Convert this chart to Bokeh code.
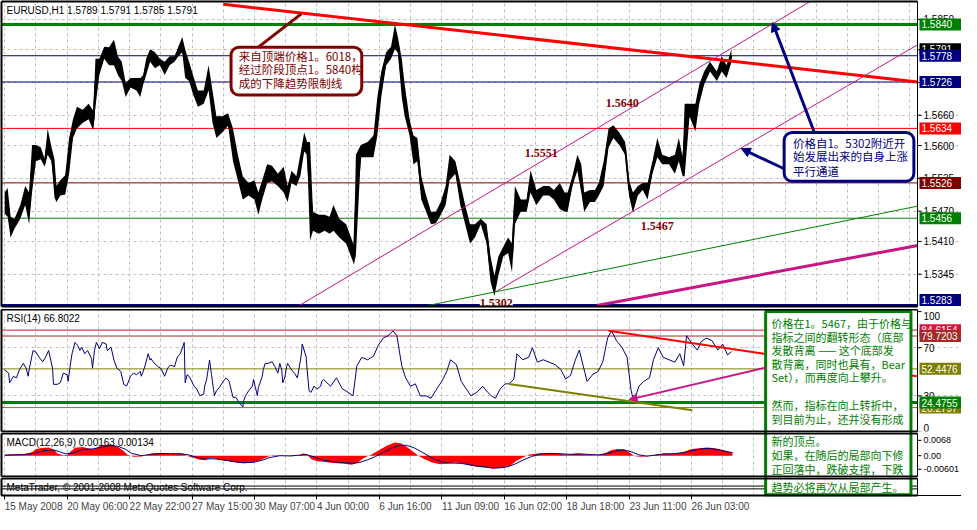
from bokeh.plotting import figure
from bokeh.models import Range1d, FixedTicker, Label, Arrow, NormalHead, BoxAnnotation
from bokeh.layouts import column
from bokeh.embed import file_html
from bokeh.resources import INLINE
from bokeh.core.properties import value

# ---------------- data ----------------
time_tick_idx = [0, 64, 128, 192, 256, 320, 384, 448, 512, 576, 640, 704]
time_labels = ["15 May 2008", "20 May 06:00", "22 May 22:00", "27 May 15:00", "30 May 07:00",
               "4 Jun 00:00", "6 Jun 16:00", "11 Jun 09:00", "16 Jun 02:00", "18 Jun 18:00",
               "23 Jun 11:00", "26 Jun 03:00"]
grid_x = list(range(0, 929, 32))

bar_idx = [0, 3, 6, 10, 16, 21, 25, 28, 32, 37,
           41, 44, 48, 51, 53, 57, 62, 66, 70, 74,
           80, 86, 90, 91, 93, 97, 102, 107, 112, 116,
           120, 124, 129, 135, 139, 142, 145, 149, 154, 159,
           164, 169, 174, 178, 182, 185, 189, 193, 198, 204,
           209, 213, 217, 223, 229, 234, 239, 244, 250, 256,
           260, 264, 269, 274, 280, 286, 290, 294, 299, 303,
           307, 310, 313, 316, 322, 328, 333, 337, 343, 350,
           355, 358, 360, 365, 372, 378, 382, 386, 391, 396,
           400, 403, 407, 410, 415, 419, 423, 427, 432, 437,
           442, 447, 452, 456, 462, 467, 472, 477, 482, 488,
           494, 498, 502, 506, 511, 516, 520, 523, 529, 535,
           539, 545, 552, 558, 563, 569, 574, 577, 582, 587,
           591, 594, 600, 605, 609, 614, 619, 624, 630, 636,
           640, 644, 649, 654, 659, 664, 669, 674, 681, 687,
           691, 695, 697, 702, 708, 712, 717, 723, 730, 735,
           740, 745]
bar_high = [1.5507, 1.5516, 1.5459, 1.5455, 1.5482, 1.5520, 1.5507, 1.5601, 1.5601, 1.5596,
            1.5573, 1.5634, 1.5596, 1.5573, 1.5520, 1.5531, 1.5541, 1.5615, 1.5652, 1.5677,
            1.5671, 1.5683, 1.5671, 1.5671, 1.5772, 1.5772, 1.5796, 1.5795, 1.5810, 1.5777,
            1.5766, 1.5724, 1.5734, 1.5734, 1.5734, 1.5740, 1.5772, 1.5791, 1.5785, 1.5772,
            1.5766, 1.5777, 1.5777, 1.5796, 1.5815, 1.5791, 1.5766, 1.5740, 1.5709, 1.5709,
            1.5759, 1.5709, 1.5658, 1.5658, 1.5664, 1.5634, 1.5582, 1.5539, 1.5526, 1.5531,
            1.5507, 1.5531, 1.5563, 1.5560, 1.5544, 1.5558, 1.5520, 1.5550, 1.5539, 1.5582,
            1.5626, 1.5607, 1.5607, 1.5469, 1.5463, 1.5463, 1.5459, 1.5482, 1.5455, 1.5444,
            1.5418, 1.5402, 1.5582, 1.5601, 1.5607, 1.5620, 1.5696, 1.5747, 1.5785, 1.5796,
            1.5840, 1.5815, 1.5772, 1.5721, 1.5652, 1.5620, 1.5615, 1.5539, 1.5501, 1.5469,
            1.5469, 1.5488, 1.5520, 1.5582, 1.5569, 1.5526, 1.5482, 1.5444, 1.5444, 1.5455,
            1.5444, 1.5380, 1.5342, 1.5380, 1.5399, 1.5418, 1.5406, 1.5520, 1.5493, 1.5493,
            1.5551, 1.5512, 1.5520, 1.5520, 1.5512, 1.5526, 1.5507, 1.5507, 1.5539, 1.5582,
            1.5563, 1.5507, 1.5512, 1.5512, 1.5526, 1.5569, 1.5634, 1.5640, 1.5626, 1.5607,
            1.5531, 1.5507, 1.5520, 1.5526, 1.5526, 1.5569, 1.5615, 1.5582, 1.5577, 1.5582,
            1.5615, 1.5577, 1.5683, 1.5683, 1.5683, 1.5721, 1.5747, 1.5766, 1.5747, 1.5777,
            1.5759, 1.5791]
bar_low = [1.5465, 1.5459, 1.5418, 1.5435, 1.5455, 1.5482, 1.5444, 1.5507, 1.5569, 1.5573,
           1.5558, 1.5582, 1.5569, 1.5497, 1.5488, 1.5501, 1.5503, 1.5544, 1.5615, 1.5634,
           1.5645, 1.5652, 1.5634, 1.5632, 1.5677, 1.5740, 1.5772, 1.5759, 1.5759, 1.5740,
           1.5728, 1.5696, 1.5715, 1.5709, 1.5696, 1.5721, 1.5740, 1.5766, 1.5753, 1.5759,
           1.5740, 1.5759, 1.5766, 1.5777, 1.5785, 1.5734, 1.5728, 1.5702, 1.5677, 1.5683,
           1.5709, 1.5645, 1.5615, 1.5626, 1.5639, 1.5569, 1.5531, 1.5493, 1.5501, 1.5493,
           1.5463, 1.5493, 1.5526, 1.5529, 1.5520, 1.5507, 1.5488, 1.5526, 1.5520, 1.5539,
           1.5588, 1.5582, 1.5412, 1.5431, 1.5425, 1.5431, 1.5425, 1.5431, 1.5418, 1.5406,
           1.5380, 1.5364, 1.5383, 1.5577, 1.5577, 1.5577, 1.5620, 1.5696, 1.5759, 1.5772,
           1.5791, 1.5785, 1.5696, 1.5658, 1.5620, 1.5563, 1.5569, 1.5493, 1.5469, 1.5444,
           1.5446, 1.5463, 1.5482, 1.5531, 1.5544, 1.5482, 1.5444, 1.5406, 1.5418, 1.5444,
           1.5406, 1.5330, 1.5302, 1.5342, 1.5380, 1.5387, 1.5349, 1.5444, 1.5469, 1.5469,
           1.5507, 1.5482, 1.5501, 1.5501, 1.5493, 1.5474, 1.5469, 1.5469, 1.5520, 1.5550,
           1.5507, 1.5469, 1.5488, 1.5488, 1.5501, 1.5520, 1.5596, 1.5615, 1.5601, 1.5582,
           1.5501, 1.5467, 1.5501, 1.5512, 1.5493, 1.5544, 1.5577, 1.5563, 1.5563, 1.5544,
           1.5569, 1.5539, 1.5539, 1.5658, 1.5628, 1.5683, 1.5721, 1.5747, 1.5728, 1.5747,
           1.5734, 1.5766]

price_ticks = [1.5345, 1.5410, 1.5470, 1.5535, 1.5600, 1.5660, 1.5725, 1.5790, 1.5850]
price_tick_labels = ["1.5345", "1.5410", "1.5470", "1.5535", "1.5600", "1.5660", "1.5725",
                     "1.5790", "1.5850"]
level_price = [1.5840, 1.5778, 1.5726, 1.5634, 1.5526, 1.5456, 1.5283]
level_color = ["#008000", "#000080", "#000080", "#FF0000", "#800000", "#008000", "#000080"]
level_width = [3, 1, 1, 1, 1, 1, 3]
tag_price = [1.5840, 1.5791, 1.5778, 1.5726, 1.5634, 1.5526, 1.5456, 1.5283]
tag_text = ["1.5840", "1.5791", "1.5778", "1.5726", "1.5634", "1.5526", "1.5456", "1.5283"]
tag_color = ["#008000", "#000000", "#000080", "#000080", "#FF0000", "#800000", "#008000", "#000080"]

trend_x0 = [224, 302, 503, 434, 607]
trend_p0 = [1.5880, 1.5283, 1.5310, 1.5283, 1.5283]
trend_x1 = [936, 826, 936, 936, 936]
trend_p1 = [1.5726, 1.5886, 1.5800, 1.5480, 1.5402]
trend_color = ["#FF0000", "#C71585", "#C71585", "#008000", "#C71585"]
trend_width = [3, 1, 1, 1, 3]

pivot_text = ["1.5640", "1.5551", "1.5467"]
pivot_idx = [616, 533, 652]
pivot_price = [1.5685, 1.5586, 1.5440]

rsi_idx = [0, 4, 5, 9, 12, 15, 19, 22, 24, 25,
           29, 32, 35, 39, 42, 45, 49, 50, 54, 57,
           60, 64, 65, 67, 69, 72, 75, 77, 79, 82,
           85, 89, 90, 92, 94, 95, 97, 100, 104, 105,
           109, 112, 115, 119, 122, 125, 129, 132, 135, 139,
           140, 142, 144, 147, 149, 150, 152, 157, 160, 164,
           167, 170, 174, 177, 180, 184, 185, 187, 189, 190,
           194, 197, 200, 204, 205, 207, 210, 212, 214, 215,
           217, 220, 224, 227, 230, 234, 237, 240, 244, 245,
           247, 250, 254, 255, 257, 259, 260, 264, 265, 267,
           270, 274, 277, 280, 282, 284, 285, 287, 289, 290,
           294, 297, 300, 304, 305, 309, 310, 312, 314, 317,
           320, 324, 325, 327, 334, 340, 346, 352, 357, 361,
           366, 372, 378, 383, 388, 393, 398, 402, 407, 411,
           416, 421, 426, 432, 437, 443, 448, 453, 457, 463,
           468, 473, 478, 484, 490, 495, 499, 503, 508, 513,
           517, 522, 525, 531, 537, 541, 546, 552, 558, 564,
           570, 575, 580, 585, 589, 593, 597, 603, 608, 613,
           618, 622, 627, 633, 638, 642, 645, 650, 655, 661,
           665, 670, 675, 681, 687, 692, 696, 699, 704, 710,
           714, 719, 725, 731, 736, 741, 745]
rsi_val = [51.6, 48.9, 40.9, 46.3, 44.9, 51.6, 57.0, 53.0, 46.3, 51.6,
           67.7, 66.4, 62.3, 58.3, 62.3, 67.7, 53.0, 39.6, 39.6, 40.9,
           48.9, 47.6, 42.2, 54.3, 65.0, 74.4, 71.7, 67.7, 70.4, 65.0,
           67.7, 61.0, 53.0, 67.7, 74.4, 73.1, 69.0, 74.4, 73.1, 67.7,
           70.4, 59.7, 53.0, 50.3, 39.6, 38.2, 46.3, 48.9, 47.6, 50.3,
           46.3, 50.3, 55.6, 65.0, 59.7, 61.0, 58.3, 54.3, 53.0, 46.3,
           53.0, 55.6, 54.3, 62.3, 65.0, 74.4, 40.9, 47.6, 46.3, 44.9,
           38.2, 35.5, 30.2, 31.5, 38.2, 43.6, 59.7, 47.6, 35.5, 30.2,
           34.2, 36.9, 42.2, 44.9, 42.2, 28.8, 28.8, 24.8, 20.8, 26.1,
           30.2, 34.2, 38.2, 43.6, 36.9, 30.2, 36.9, 46.3, 51.6, 57.0,
           57.0, 58.3, 54.3, 48.9, 57.0, 51.6, 40.9, 44.9, 54.3, 57.0,
           51.6, 48.9, 44.9, 63.7, 73.1, 62.3, 51.6, 34.2, 32.9, 38.2,
           35.5, 38.2, 42.2, 43.6, 38.0, 45.0, 36.0, 33.0, 30.0, 55.0,
           62.0, 60.0, 63.0, 72.0, 78.0, 80.0, 84.0, 80.0, 55.0, 45.0,
           38.0, 40.0, 30.0, 30.0, 28.0, 36.0, 42.0, 50.0, 60.0, 56.0,
           42.0, 36.0, 30.0, 33.0, 38.0, 33.0, 30.0, 28.0, 36.0, 40.0,
           40.0, 44.0, 65.0, 60.0, 62.0, 70.0, 58.0, 60.0, 58.0, 56.0,
           52.0, 44.0, 47.0, 60.0, 68.0, 55.0, 42.0, 48.0, 50.0, 58.0,
           78.0, 84.0, 76.0, 70.0, 62.0, 35.0, 24.5, 38.0, 42.0, 45.0,
           60.0, 70.0, 62.0, 60.0, 58.0, 65.0, 55.0, 80.0, 74.0, 68.0,
           75.0, 78.0, 76.0, 68.0, 73.0, 64.0, 66.8]
rsi_ticks = [100, 70, 30, 0]
rsi_tick_labels = ["100", "70", "30", "0"]
rsi_levels = [84.6154, 79.7203, 52.4476, 24.4755, 20.2797]
rsi_level_color = ["#DC143C", "#A52A2A", "#808000", "#008000", "#808000"]
rsi_level_width = [1, 1, 1, 3, 1]
rsi_tag_order = [0, 1, 2, 4, 3]

macd_idx = [0, 10, 20, 28, 32, 38, 45, 50, 54, 60,
            64, 68, 72, 80, 88, 92, 96, 100, 106, 110,
            116, 122, 126, 132, 140, 146, 150, 156, 162, 170,
            176, 182, 188, 194, 200, 206, 210, 216, 222, 230,
            238, 244, 250, 256, 262, 268, 274, 280, 286, 294,
            300, 306, 310, 314, 320, 326, 332, 340, 348, 356,
            362, 368, 376, 384, 392, 400, 406, 412, 418, 424,
            430, 438, 446, 454, 462, 470, 478, 486, 494, 500,
            506, 512, 518, 524, 530, 538, 546, 554, 562, 570,
            578, 586, 592, 600, 608, 616, 622, 628, 634, 640,
            646, 652, 660, 668, 676, 684, 692, 698, 704, 712,
            720, 728, 736, 742, 746]
macd_main = [0.0005, 0.0006, 0.0008, 0.0015, 0.0030, 0.0034, 0.0036, 0.0028, 0.0010, 0.0002,
             0.0003, 0.0020, 0.0035, 0.0038, 0.0030, 0.0028, 0.0040, 0.0046, 0.0050, 0.0048,
             0.0040, 0.0020, 0.0004, -0.0005, -0.0004, 0.0003, 0.0010, 0.0012, 0.0010, 0.0008,
             0.0008, 0.0010, -0.0003, -0.0010, -0.0018, -0.0020, -0.0010, -0.0012, -0.0020, -0.0025,
             -0.0030, -0.0033, -0.0032, -0.0028, -0.0020, -0.0008, 0.0002, 0.0002, 0.0000, -0.0002,
             0.0000, 0.0010, 0.0006, -0.0015, -0.0025, -0.0027, -0.0030, -0.0033, -0.0036, -0.0040,
             -0.0030, -0.0010, 0.0005, 0.0025, 0.0045, 0.0058, 0.0055, 0.0040, 0.0020, 0.0000,
             -0.0015, -0.0030, -0.0038, -0.0035, -0.0030, -0.0035, -0.0045, -0.0050, -0.0052, -0.0058,
             -0.0055, -0.0050, -0.0045, -0.0025, -0.0010, 0.0005, 0.0010, 0.0012, 0.0010, 0.0008,
             0.0005, 0.0010, 0.0008, 0.0003, 0.0002, 0.0012, 0.0025, 0.0030, 0.0028, 0.0015,
             -0.0002, -0.0005, -0.0002, 0.0005, 0.0010, 0.0008, 0.0012, 0.0020, 0.0030, 0.0033,
             0.0036, 0.0033, 0.0025, 0.0018, 0.0016]
sig_idx = [0, 20, 30, 40, 50, 56, 62, 70, 80, 90,
           100, 108, 116, 124, 130, 140, 150, 160, 170, 180,
           188, 196, 204, 214, 224, 234, 244, 254, 264, 272,
           282, 292, 302, 308, 316, 326, 332, 340, 348, 356,
           364, 372, 380, 388, 396, 404, 412, 420, 428, 436,
           444, 452, 460, 468, 476, 484, 492, 500, 508, 516,
           524, 532, 540, 548, 556, 564, 572, 580, 590, 600,
           610, 618, 626, 634, 642, 650, 658, 666, 676, 686,
           696, 704, 714, 724, 734, 746]
sig_val = [0.0002, 0.0005, 0.0010, 0.0022, 0.0025, 0.0018, 0.0008, 0.0012, 0.0028, 0.0030,
           0.0038, 0.0044, 0.0042, 0.0028, 0.0010, 0.0000, 0.0006, 0.0010, 0.0009, 0.0009,
           0.0004, -0.0006, -0.0014, -0.0014, -0.0018, -0.0026, -0.0031, -0.0030, -0.0020, -0.0008,
           0.0000, -0.0001, 0.0002, 0.0006, -0.0004, -0.0020, -0.0024, -0.0028, -0.0031, -0.0034,
           -0.0030, -0.0018, -0.0004, 0.0014, 0.0032, 0.0045, 0.0046, 0.0034, 0.0015, -0.0005,
           -0.0022, -0.0032, -0.0033, -0.0034, -0.0040, -0.0046, -0.0050, -0.0054, -0.0054, -0.0049,
           -0.0035, -0.0018, -0.0004, 0.0006, 0.0010, 0.0010, 0.0008, 0.0006, 0.0008, 0.0005,
           0.0004, 0.0010, 0.0020, 0.0026, 0.0018, 0.0004, -0.0002, 0.0002, 0.0008, 0.0009,
           0.0014, 0.0022, 0.0030, 0.0032, 0.0024, 0.0013]
macd_ticks = [0.0068, 0.0, -0.00601]
macd_tick_labels = ["0.0068", "0.00", "-0.00601"]

# ---------------- layout helpers ----------------
FW = 960                        # frame includes the price-scale column
SCALE_PX = 44                   # width of the price-scale column in pixels
X0, AX = -3.3, 935.7            # chart left edge and price-scale line (bar units)
BPX = (AX - X0) / (FW - SCALE_PX)   # bars per pixel
X1 = AX + SCALE_PX * BPX
xr = Range1d(X0, X1)
FONT = "Liberation Sans"


def base_fig(fh, yr, top=0, bottom=2, xaxis=False):
    p = figure(frame_width=FW, frame_height=fh, x_range=xr, y_range=yr,
               output_backend="svg", toolbar_location=None,
               x_axis_location="below" if xaxis else None, y_axis_location=None,
               min_border_left=1, min_border_right=0, min_border_top=top,
               min_border_bottom=bottom)
    p.outline_line_color = None
    p.background_fill_color = "white"
    p.border_fill_color = "white"
    p.xgrid.ticker = FixedTicker(ticks=grid_x)
    p.xgrid.grid_line_color = "#C0C0C0"
    p.xgrid.grid_line_dash = "3 3"
    p.ygrid.grid_line_color = "#C0C0C0"
    p.ygrid.grid_line_dash = "3 3"
    p.ygrid.bounds = (X0, AX)
    y0, y1 = yr.start, yr.end
    p.segment(x0=[X0, X0, X0, AX], x1=[X0, AX, AX, AX], y0=[y0, y1, y0, y0], y1=[y1, y1, y0, y1],
              line_color="black", line_width=[2, 2, 2, 1], level="overlay")
    return p


def scale_labels(p, ticks, labels, baselines=None, size="10px"):
    n = len(ticks)
    p.segment(x0=[AX] * n, x1=[AX + 4 * BPX] * n, y0=ticks, y1=ticks, line_color="black")
    if baselines is None:
        baselines = ["middle"] * n
    for t, s, b in zip(ticks, labels, baselines):
        p.text(x=[AX + 6 * BPX], y=[t], text=[s], text_font=value(FONT), text_font_size=size,
               text_color="black", text_align="left", text_baseline=b)


def tags(p, ys, texts, colors, fh):
    lo, hi = p.y_range.start, p.y_range.end
    pad = 6.5 * (hi - lo) / fh
    for y, s, c in zip(ys, texts, colors):
        yc = min(max(y, lo + pad), hi - pad)
        p.rect(x=[(AX + 2 * BPX + X1) / 2], y=[yc], width=X1 - AX - 2 * BPX, height=12,
               height_units="screen", fill_color=c, line_color=None)
        p.text(x=[AX + 4 * BPX], y=[yc], text=[s], text_font=value(FONT), text_font_size="10px",
               text_color="white", text_align="left", text_baseline="middle")


def corner_text(p, txt, fh):
    p.add_layout(Label(x=5, y=fh - 9, x_units="screen", y_units="screen", text=txt,
                       text_color="black", text_font=FONT, text_font_size="10px",
                       text_baseline="middle", text_align="left"))


def hlines(p, ys, colors, widths):
    p.segment(x0=[X0] * len(ys), x1=[AX] * len(ys), y0=ys, y1=ys,
              line_color=colors, line_width=widths)


# ---------------- main price panel ----------------
MH = 305
main = base_fig(MH, Range1d(1.5281, 1.58855), top=1, bottom=3)
main.ygrid.ticker = FixedTicker(ticks=price_ticks)
scale_labels(main, price_ticks, price_tick_labels)

hlines(main, level_price, level_color, level_width)
main.varea(x=bar_idx, y1=bar_low, y2=bar_high, fill_color="black")
main.line(x=bar_idx, y=[(h + l) / 2 for h, l in zip(bar_high, bar_low)], line_color="black",
          line_width=2)
main.segment(x0=trend_x0, y0=trend_p0, x1=trend_x1, y1=trend_p1,
             line_color=trend_color, line_width=trend_width)
main.text(x=pivot_idx, y=pivot_price, text=pivot_text, text_font=value("Liberation Serif"),
          text_font_style="bold", text_font_size="12px", text_color="#800000",
          text_align="left", text_baseline="middle")
main.add_layout(Label(x=487, y=1.5288, text="1.5302", text_font="Liberation Serif",
                      text_font_style="bold", text_font_size="12px", text_color="#800000",
                      text_baseline="middle", background_fill_color="white"))

# annotation box 1 (dark red)
main.segment(x0=[260], y0=[1.5795], x1=[304], y1=[1.5861], line_color="#800000", line_width=3)
main.add_layout(BoxAnnotation(left=232, right=366, bottom=1.5700, top=1.5795,
                              fill_color="white", fill_alpha=1.0, line_color="#800000",
                              line_width=3, line_alpha=1.0, border_radius=8))
main.text(x=[240, 240, 240], y=[1.5778, 1.5751, 1.5724],
          text=["来自顶端价格1。6018，", "经过阶段顶点1。5840构", "成的下降趋势限制线"],
          text_font=value("Noto Sans CJK SC"), text_font_size="11.5px", text_color="#800000",
          text_align="left", text_baseline="middle", level="overlay")

# annotation box 2 (navy)
main.add_layout(Arrow(end=NormalHead(size=9, fill_color="#000080", line_color="#000080"),
                      x_start=830, y_start=1.5626, x_end=787, y_end=1.5844,
                      line_color="#000080", line_width=3))
main.add_layout(Arrow(end=NormalHead(size=9, fill_color="#000080", line_color="#000080"),
                      x_start=799, y_start=1.5554, x_end=755, y_end=1.5594,
                      line_color="#000080", line_width=3))
main.add_layout(BoxAnnotation(left=799, right=932, bottom=1.5529, top=1.5626,
                              fill_color="white", fill_alpha=1.0, line_color="#000080",
                              line_width=3, line_alpha=1.0, border_radius=8))
main.text(x=[808, 808, 808], y=[1.5605, 1.5579, 1.5550],
          text=["价格自1。5302附近开", "始发展出来的自身上涨", "平行通道"],
          text_font=value("Noto Sans CJK SC"), text_font_size="11.5px", text_color="#000080",
          text_align="left", text_baseline="middle", level="overlay")

tags(main, tag_price, tag_text, tag_color, MH)
corner_text(main, "EURUSD,H1  1.5789 1.5791 1.5785 1.5791", MH)

# ---------------- RSI panel ----------------
RH = 122
rsi = base_fig(RH, Range1d(0.42, 101.75), top=0, bottom=2)
rsi.ygrid.ticker = FixedTicker(ticks=[30, 70])
scale_labels(rsi, rsi_ticks, rsi_tick_labels, ["top", "middle", "middle", "bottom"])
hlines(rsi, rsi_levels, rsi_level_color, rsi_level_width)
rsi.line(x=rsi_idx, y=rsi_val, line_color="#000080", line_width=1)
rsi.segment(x0=[619], y0=[84.05], x1=[935], y1=[46.3], line_color="#FF0000", line_width=2)
rsi.segment(x0=[517], y0=[39.8], x1=[705], y1=[18.1], line_color="#808000", line_width=2)
rsi.add_layout(Arrow(end=NormalHead(size=8, fill_color="#C71585", line_color="#C71585"),
                     x_start=780, y_start=53.5, x_end=640, y_end=26.9,
                     line_color="#C71585", line_width=2))
rsi.quad(left=[780], right=[929], top=[100.1], bottom=[-60], fill_color="white",
         line_color="#008000", line_width=3, level="annotation")
box3_rows_rsi = ["价格在1。5467，由于价格与", "指标之间的翻转形态（底部", "发散背离 —— 这个底部发",
                 "散背离，同时也具有，Bear", "Set），而再度向上攀升。",
                 "然而，指标在向上转折中，", "到目前为止，还并没有形成"]
rsi.text(x=[786] * 7, y=[90.5, 79.2, 67.9, 56.7, 45.5, 22.1, 10.9], text=box3_rows_rsi,
         text_font=value("Noto Sans CJK SC"), text_font_size="11px", text_color="#008000",
         text_align="left", text_baseline="middle", level="overlay")
tags(rsi, [rsi_levels[i] for i in rsi_tag_order],
     ["%.4f" % rsi_levels[i] for i in rsi_tag_order],
     [rsi_level_color[i] for i in rsi_tag_order], RH)
corner_text(rsi, "RSI(14) 66.8022", RH)

# ---------------- MACD panel ----------------
CH = 43
macd = base_fig(CH, Range1d(-0.00922, 0.00983), top=0, bottom=2)
macd.ygrid.ticker = FixedTicker(ticks=[])
scale_labels(macd, macd_ticks, macd_tick_labels, size="9px")
macd.varea(x=macd_idx, y1=[0.0] * len(macd_idx), y2=macd_main, fill_color="#FF0000")
macd.line(x=sig_idx, y=sig_val, line_color="#000080", line_width=1)
macd.quad(left=[780], right=[929], top=[1], bottom=[-1], fill_color="white",
          line_color="#008000", line_width=3, level="annotation")
macd.text(x=[786] * 3, y=[0.0067, 0.0005, -0.0058],
          text=["新的顶点。", "如果，在随后的局部向下修", "正回落中，跌破支撑，下跌"],
          text_font=value("Noto Sans CJK SC"), text_font_size="11px", text_color="#008000",
          text_align="left", text_baseline="middle", level="overlay")
corner_text(macd, "MACD(12,26,9) 0.00163 0.00134", CH)

# ---------------- bottom strip + time axis ----------------
SH = 17
strip = base_fig(SH, Range1d(0, 1), top=0, bottom=0, xaxis=True)
strip.ygrid.ticker = FixedTicker(ticks=[])
hlines(strip, [0.556, 0.389], ["black", "black"], [1, 1])
strip.quad(left=[780], right=[929], top=[3], bottom=[0.04], fill_color="white",
           line_color="#008000", line_width=3, level="annotation")
strip.text(x=[786], y=[0.5], text=["趋势必将再次从局部产生。"],
           text_font=value("Noto Sans CJK SC"), text_font_size="11px", text_color="#008000",
           text_align="left", text_baseline="middle", level="overlay")
strip.add_layout(Label(x=5, y=SH / 2, x_units="screen", y_units="screen",
                       text="MetaTrader, © 2001-2008 MetaQuotes Software Corp.",
                       text_color="black", text_font=FONT, text_font_size="10px",
                       text_baseline="middle", text_align="left"))

CW = {" ": 0.278, ":": 0.278, "M": 0.833, "J": 0.5, "y": 0.5}
def est_w(s, fs=10):
    return sum(CW.get(c, 0.556) for c in s) * fs
label_centers = [round(t + est_w(s) / 2 * BPX, 1) for t, s in zip(time_tick_idx, time_labels)]
xa = strip.xaxis[0]
xa.ticker = FixedTicker(ticks=label_centers, minor_ticks=time_tick_idx)
xa.major_label_overrides = {c: s for c, s in zip(label_centers, time_labels)}
xa.major_tick_line_color = None
xa.major_tick_out = 4
xa.minor_tick_line_color = "black"
xa.minor_tick_out = 4
xa.minor_tick_in = 0
xa.axis_line_color = "black"
xa.major_label_standoff = 1
xa.major_label_text_font = FONT
xa.major_label_text_font_size = "10px"

layout = column(main, rsi, macd, strip, spacing=0)
open("out.html", "w").write(file_html(layout, INLINE))
